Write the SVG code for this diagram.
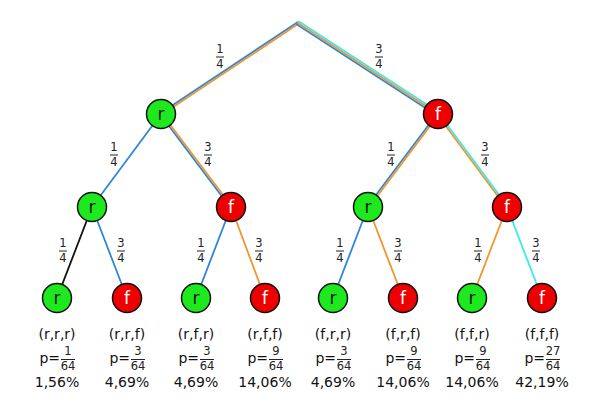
<svg xmlns="http://www.w3.org/2000/svg" width="600" height="415" viewBox="0 0 600 415">
<style>
.e{fill:none;stroke-width:1.8;stroke-linecap:round}
.b{stroke:#2f87d6}.o{stroke:#f0962e}.c{stroke:#40e8e8}.k{stroke:#111}
.g{fill:#1ee81e;stroke:#111;stroke-width:1.5}
.rd{fill:#ee0000;stroke:#111;stroke-width:1.5}
.lr{font-family:"DejaVu Sans",Verdana,sans-serif;font-size:17px;fill:#111;text-anchor:middle}
.lf{font-family:"DejaVu Sans",Verdana,sans-serif;font-size:17px;fill:#fff;text-anchor:middle}
.fr{font-family:"DejaVu Sans",Verdana,sans-serif;font-size:11.5px;fill:#222;text-anchor:middle}
.bar{stroke:#222;stroke-width:1}
.t{font-family:"DejaVu Sans",Verdana,sans-serif;font-size:14px;fill:#111;text-anchor:middle}
.pe{font-family:"DejaVu Sans",Verdana,sans-serif;font-size:14px;fill:#111;text-anchor:end}
</style>
<rect width="600" height="415" fill="#fff"/>
<g id="connectors">
  <line class="e b" x1="298" y1="23" x2="161" y2="114" transform="translate(-0.5,-0.75)"/>
  <line class="e o" x1="298" y1="23" x2="161" y2="114" transform="translate(0.5,0.75)"/>
  <line class="e b" x1="298" y1="23" x2="438" y2="114" transform="translate(-0.98,1.51)"/>
  <line class="e o" x1="298" y1="23" x2="438" y2="114"/>
  <line class="e c" x1="298" y1="23" x2="438" y2="114" transform="translate(0.98,-1.51)"/>
  <line class="e b" x1="161" y1="114" x2="92" y2="207"/>
  <line class="e b" x1="161" y1="114" x2="231" y2="207" transform="translate(-0.72,0.54)"/>
  <line class="e o" x1="161" y1="114" x2="231" y2="207" transform="translate(0.72,-0.54)"/>
  <line class="e b" x1="438" y1="114" x2="368" y2="207" transform="translate(-0.72,-0.54)"/>
  <line class="e o" x1="438" y1="114" x2="368" y2="207" transform="translate(0.72,0.54)"/>
  <line class="e o" x1="438" y1="114" x2="507" y2="207" transform="translate(-0.72,0.53)"/>
  <line class="e c" x1="438" y1="114" x2="507" y2="207" transform="translate(0.72,-0.53)"/>
  <line class="e k" x1="92" y1="207" x2="57" y2="298"/>
  <line class="e b" x1="92" y1="207" x2="127" y2="298"/>
  <line class="e b" x1="231" y1="207" x2="196" y2="298"/>
  <line class="e o" x1="231" y1="207" x2="265" y2="298"/>
  <line class="e b" x1="368" y1="207" x2="333" y2="298"/>
  <line class="e o" x1="368" y1="207" x2="403" y2="298"/>
  <line class="e o" x1="507" y1="207" x2="472" y2="298"/>
  <line class="e c" x1="507" y1="207" x2="542" y2="298"/>
</g>
<g id="edge-labels">
  <g><text class="fr" x="220" y="53">1</text><line class="bar" x1="216" y1="57" x2="224" y2="57"/><text class="fr" x="220" y="68">4</text></g>
  <g><text class="fr" x="379" y="53">3</text><line class="bar" x1="375" y1="57" x2="383" y2="57"/><text class="fr" x="379" y="68">4</text></g>
  <g><text class="fr" x="114" y="151">1</text><line class="bar" x1="110" y1="155" x2="118" y2="155"/><text class="fr" x="114" y="166">4</text></g>
  <g><text class="fr" x="208" y="151">3</text><line class="bar" x1="204" y1="155" x2="212" y2="155"/><text class="fr" x="208" y="166">4</text></g>
  <g><text class="fr" x="391" y="151">1</text><line class="bar" x1="387" y1="155" x2="395" y2="155"/><text class="fr" x="391" y="166">4</text></g>
  <g><text class="fr" x="485" y="151">3</text><line class="bar" x1="481" y1="155" x2="489" y2="155"/><text class="fr" x="485" y="166">4</text></g>
  <g><text class="fr" x="63" y="247">1</text><line class="bar" x1="59" y1="251" x2="67" y2="251"/><text class="fr" x="63" y="262">4</text></g>
  <g><text class="fr" x="121" y="247">3</text><line class="bar" x1="117" y1="251" x2="125" y2="251"/><text class="fr" x="121" y="262">4</text></g>
  <g><text class="fr" x="201" y="247">1</text><line class="bar" x1="197" y1="251" x2="205" y2="251"/><text class="fr" x="201" y="262">4</text></g>
  <g><text class="fr" x="259" y="247">3</text><line class="bar" x1="255" y1="251" x2="263" y2="251"/><text class="fr" x="259" y="262">4</text></g>
  <g><text class="fr" x="340" y="247">1</text><line class="bar" x1="336" y1="251" x2="344" y2="251"/><text class="fr" x="340" y="262">4</text></g>
  <g><text class="fr" x="398" y="247">3</text><line class="bar" x1="394" y1="251" x2="402" y2="251"/><text class="fr" x="398" y="262">4</text></g>
  <g><text class="fr" x="478" y="247">1</text><line class="bar" x1="474" y1="251" x2="482" y2="251"/><text class="fr" x="478" y="262">4</text></g>
  <g><text class="fr" x="536" y="247">3</text><line class="bar" x1="532" y1="251" x2="540" y2="251"/><text class="fr" x="536" y="262">4</text></g>
</g>
<g id="n1"><circle class="g" cx="161" cy="114" r="14.5"/><text class="lr" x="161" y="120">r</text></g>
<g id="n2"><circle class="rd" cx="438" cy="114" r="14.5"/><text class="lf" x="438" y="120">f</text></g>
<g id="n3"><circle class="g" cx="92" cy="207" r="14.5"/><text class="lr" x="92" y="213">r</text></g>
<g id="n4"><circle class="rd" cx="231" cy="207" r="14.5"/><text class="lf" x="231" y="213">f</text></g>
<g id="n5"><circle class="g" cx="368" cy="207" r="14.5"/><text class="lr" x="368" y="213">r</text></g>
<g id="n6"><circle class="rd" cx="507" cy="207" r="14.5"/><text class="lf" x="507" y="213">f</text></g>
<g id="leaf1"><circle class="g" cx="57" cy="298" r="14.5"/><text class="lr" x="57" y="304">r</text>
  <text class="t" x="57" y="339">(r,r,r)</text><text class="pe" x="60" y="363">p=</text>
  <text class="fr" x="68" y="355">1</text><line class="bar" x1="61" y1="359.5" x2="75" y2="359.5"/><text class="fr" x="68" y="370">64</text>
  <text class="t" x="57" y="387">1,56%</text></g>
<g id="leaf2"><circle class="rd" cx="127" cy="298" r="14.5"/><text class="lf" x="127" y="304">f</text>
  <text class="t" x="127" y="339">(r,r,f)</text><text class="pe" x="130" y="363">p=</text>
  <text class="fr" x="138" y="355">3</text><line class="bar" x1="131" y1="359.5" x2="145" y2="359.5"/><text class="fr" x="138" y="370">64</text>
  <text class="t" x="127" y="387">4,69%</text></g>
<g id="leaf3"><circle class="g" cx="196" cy="298" r="14.5"/><text class="lr" x="196" y="304">r</text>
  <text class="t" x="196" y="339">(r,f,r)</text><text class="pe" x="199" y="363">p=</text>
  <text class="fr" x="207" y="355">3</text><line class="bar" x1="200" y1="359.5" x2="214" y2="359.5"/><text class="fr" x="207" y="370">64</text>
  <text class="t" x="196" y="387">4,69%</text></g>
<g id="leaf4"><circle class="rd" cx="265" cy="298" r="14.5"/><text class="lf" x="265" y="304">f</text>
  <text class="t" x="265" y="339">(r,f,f)</text><text class="pe" x="268" y="363">p=</text>
  <text class="fr" x="276" y="355">9</text><line class="bar" x1="269" y1="359.5" x2="283" y2="359.5"/><text class="fr" x="276" y="370">64</text>
  <text class="t" x="265" y="387">14,06%</text></g>
<g id="leaf5"><circle class="g" cx="333" cy="298" r="14.5"/><text class="lr" x="333" y="304">r</text>
  <text class="t" x="333" y="339">(f,r,r)</text><text class="pe" x="336" y="363">p=</text>
  <text class="fr" x="344" y="355">3</text><line class="bar" x1="337" y1="359.5" x2="351" y2="359.5"/><text class="fr" x="344" y="370">64</text>
  <text class="t" x="333" y="387">4,69%</text></g>
<g id="leaf6"><circle class="rd" cx="403" cy="298" r="14.5"/><text class="lf" x="403" y="304">f</text>
  <text class="t" x="403" y="339">(f,r,f)</text><text class="pe" x="406" y="363">p=</text>
  <text class="fr" x="414" y="355">9</text><line class="bar" x1="407" y1="359.5" x2="421" y2="359.5"/><text class="fr" x="414" y="370">64</text>
  <text class="t" x="403" y="387">14,06%</text></g>
<g id="leaf7"><circle class="g" cx="472" cy="298" r="14.5"/><text class="lr" x="472" y="304">r</text>
  <text class="t" x="472" y="339">(f,f,r)</text><text class="pe" x="475" y="363">p=</text>
  <text class="fr" x="483" y="355">9</text><line class="bar" x1="476" y1="359.5" x2="490" y2="359.5"/><text class="fr" x="483" y="370">64</text>
  <text class="t" x="472" y="387">14,06%</text></g>
<g id="leaf8"><circle class="rd" cx="542" cy="298" r="14.5"/><text class="lf" x="542" y="304">f</text>
  <text class="t" x="542" y="339">(f,f,f)</text><text class="pe" x="545" y="363">p=</text>
  <text class="fr" x="553" y="355">27</text><line class="bar" x1="546" y1="359.5" x2="560" y2="359.5"/><text class="fr" x="553" y="370">64</text>
  <text class="t" x="542" y="387">42,19%</text></g>
</svg>
